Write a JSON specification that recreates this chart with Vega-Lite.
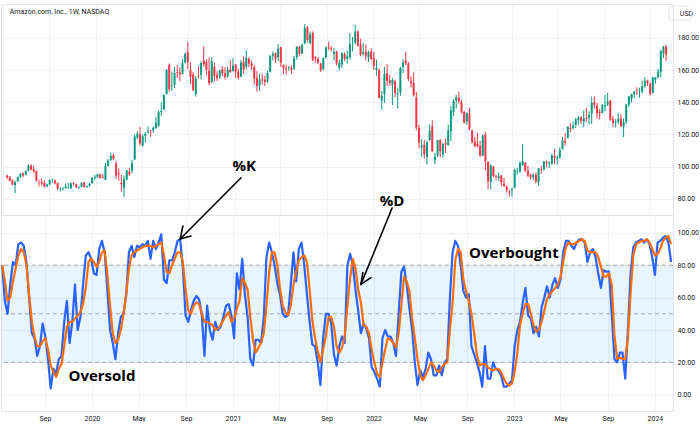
{
"$schema": "https://vega.github.io/schema/vega-lite/v6.json",
"background": "white",
"padding": {"top": 3, "left": 0, "right": 0, "bottom": 0},
"spacing": 0,
"bounds": "flush",
"config": {
  "font": "Roboto",
  "view": {"stroke": "#e0e3eb"},
  "axis": {"labelFont": "Roboto", "labelFontSize": 7, "labelColor": "#131722", "gridColor": "#eef0f5", "domain": false, "ticks": false, "labelOverlap": false}
},
"datasets": {
"w": [
{"t":"2019-05-13","o":94.5,"h":95.0,"l":92.3,"c":93.4,"k":80,"d":80},
{"t":"2019-05-20","o":93.3,"h":94.2,"l":90.8,"c":91.1,"k":58,"d":70},
{"t":"2019-05-27","o":91.5,"h":92.0,"l":88.5,"c":88.8,"k":50,"d":58},
{"t":"2019-06-03","o":88.5,"h":91.3,"l":83.6,"c":90.2,"k":68,"d":60},
{"t":"2019-06-10","o":91.0,"h":94.0,"l":90.3,"c":93.5,"k":82,"d":70},
{"t":"2019-06-17","o":93.6,"h":96.0,"l":93.0,"c":95.6,"k":80,"d":78},
{"t":"2019-06-24","o":95.8,"h":96.5,"l":93.5,"c":94.7,"k":93,"d":86},
{"t":"2019-07-01","o":95.0,"h":97.8,"l":94.5,"c":97.2,"k":94,"d":90},
{"t":"2019-07-08","o":97.5,"h":101.5,"l":97.0,"c":100.6,"k":92,"d":88},
{"t":"2019-07-15","o":100.6,"h":101.5,"l":97.8,"c":98.2,"k":82,"d":80},
{"t":"2019-07-22","o":98.5,"h":100.9,"l":96.0,"c":97.2,"k":60,"d":62},
{"t":"2019-07-29","o":97.3,"h":97.6,"l":90.5,"c":91.6,"k":38,"d":45},
{"t":"2019-08-05","o":90.5,"h":92.0,"l":87.7,"c":90.4,"k":35,"d":36},
{"t":"2019-08-12","o":90.5,"h":92.8,"l":88.3,"c":89.6,"k":24,"d":30},
{"t":"2019-08-19","o":89.8,"h":91.5,"l":87.0,"c":87.5,"k":30,"d":30},
{"t":"2019-08-26","o":88.0,"h":89.5,"l":87.0,"c":88.9,"k":44,"d":33},
{"t":"2019-09-02","o":89.0,"h":92.0,"l":88.5,"c":91.7,"k":36,"d":35},
{"t":"2019-09-09","o":91.8,"h":92.6,"l":90.0,"c":91.9,"k":22,"d":28},
{"t":"2019-09-16","o":91.5,"h":92.0,"l":89.0,"c":89.7,"k":4,"d":18},
{"t":"2019-09-23","o":89.8,"h":90.2,"l":85.4,"c":86.3,"k":16,"d":14},
{"t":"2019-09-30","o":86.4,"h":87.2,"l":84.6,"c":86.5,"k":13,"d":11},
{"t":"2019-10-07","o":86.3,"h":87.4,"l":85.2,"c":86.5,"k":22,"d":16},
{"t":"2019-10-14","o":86.7,"h":89.6,"l":86.3,"c":87.8,"k":24,"d":19},
{"t":"2019-10-21","o":88.0,"h":90.0,"l":86.1,"c":88.1,"k":45,"d":30},
{"t":"2019-10-28","o":86.5,"h":90.3,"l":86.0,"c":89.6,"k":58,"d":42},
{"t":"2019-11-04","o":89.7,"h":90.5,"l":88.4,"c":89.3,"k":32,"d":45},
{"t":"2019-11-11","o":89.0,"h":89.5,"l":86.5,"c":87.3,"k":45,"d":45},
{"t":"2019-11-18","o":87.1,"h":88.0,"l":86.1,"c":87.4,"k":68,"d":47},
{"t":"2019-11-25","o":87.5,"h":90.2,"l":87.3,"c":90.0,"k":40,"d":49},
{"t":"2019-12-02","o":90.2,"h":90.3,"l":86.8,"c":87.6,"k":48,"d":51},
{"t":"2019-12-09","o":87.4,"h":88.4,"l":87.0,"c":88.0,"k":68,"d":56},
{"t":"2019-12-16","o":88.2,"h":90.2,"l":87.5,"c":89.4,"k":86,"d":66},
{"t":"2019-12-23","o":89.7,"h":93.5,"l":89.5,"c":93.0,"k":88,"d":82},
{"t":"2019-12-30","o":93.0,"h":94.9,"l":91.9,"c":93.7,"k":84,"d":84},
{"t":"2020-01-06","o":93.8,"h":95.6,"l":92.9,"c":95.3,"k":75,"d":82},
{"t":"2020-01-13","o":95.3,"h":95.4,"l":92.5,"c":93.2,"k":74,"d":79},
{"t":"2020-01-20","o":93.5,"h":95.3,"l":92.7,"c":93.1,"k":90,"d":82},
{"t":"2020-01-27","o":92.0,"h":102.4,"l":91.5,"c":100.4,"k":95,"d":88},
{"t":"2020-02-03","o":100.5,"h":104.7,"l":100.2,"c":103.8,"k":88,"d":89},
{"t":"2020-02-10","o":104.0,"h":108.8,"l":103.9,"c":106.7,"k":65,"d":75},
{"t":"2020-02-17","o":107.0,"h":108.1,"l":104.0,"c":104.9,"k":40,"d":55},
{"t":"2020-02-24","o":102.0,"h":103.7,"l":92.4,"c":94.4,"k":32,"d":38},
{"t":"2020-03-02","o":96.0,"h":99.0,"l":91.3,"c":95.2,"k":22,"d":32},
{"t":"2020-03-09","o":90.0,"h":95.0,"l":84.5,"c":89.2,"k":38,"d":34},
{"t":"2020-03-16","o":87.0,"h":94.5,"l":81.3,"c":92.3,"k":48,"d":40},
{"t":"2020-03-23","o":92.0,"h":98.0,"l":91.5,"c":97.8,"k":50,"d":50},
{"t":"2020-03-30","o":96.8,"h":99.3,"l":94.2,"c":95.3,"k":62,"d":62},
{"t":"2020-04-06","o":97.5,"h":104.3,"l":96.0,"c":102.1,"k":88,"d":78},
{"t":"2020-04-13","o":104.5,"h":119.9,"l":104.0,"c":118.8,"k":92,"d":86},
{"t":"2020-04-20","o":118.0,"h":122.0,"l":117.0,"c":120.5,"k":85,"d":88},
{"t":"2020-04-27","o":120.0,"h":124.8,"l":113.0,"c":114.3,"k":92,"d":89},
{"t":"2020-05-04","o":113.0,"h":120.0,"l":112.5,"c":118.9,"k":91,"d":90},
{"t":"2020-05-11","o":119.0,"h":121.6,"l":115.0,"c":120.4,"k":93,"d":91},
{"t":"2020-05-18","o":121.2,"h":124.9,"l":120.5,"c":121.8,"k":92,"d":92},
{"t":"2020-05-25","o":122.5,"h":123.0,"l":118.5,"c":122.1,"k":95,"d":92},
{"t":"2020-06-01","o":122.6,"h":125.0,"l":121.0,"c":124.2,"k":84,"d":92},
{"t":"2020-06-08","o":124.0,"h":131.0,"l":123.5,"c":127.3,"k":95,"d":91},
{"t":"2020-06-15","o":125.5,"h":134.8,"l":124.5,"c":133.8,"k":90,"d":92},
{"t":"2020-06-22","o":134.0,"h":139.8,"l":131.6,"c":134.6,"k":94,"d":93},
{"t":"2020-06-29","o":135.6,"h":144.9,"l":135.0,"c":144.5,"k":99,"d":94},
{"t":"2020-07-06","o":145.0,"h":160.6,"l":145.0,"c":160.0,"k":71,"d":86},
{"t":"2020-07-13","o":163.0,"h":164.0,"l":146.5,"c":148.1,"k":69,"d":76},
{"t":"2020-07-20","o":150.0,"h":159.0,"l":147.0,"c":150.4,"k":83,"d":75},
{"t":"2020-07-27","o":151.0,"h":161.9,"l":148.7,"c":158.2,"k":83,"d":80},
{"t":"2020-08-03","o":158.8,"h":163.2,"l":155.0,"c":158.4,"k":88,"d":84},
{"t":"2020-08-10","o":158.5,"h":161.5,"l":153.0,"c":157.4,"k":95,"d":88},
{"t":"2020-08-17","o":157.5,"h":166.7,"l":157.2,"c":164.3,"k":96,"d":88},
{"t":"2020-08-24","o":164.8,"h":171.0,"l":164.0,"c":170.0,"k":78,"d":82},
{"t":"2020-08-31","o":171.0,"h":177.6,"l":160.5,"c":164.7,"k":49,"d":65},
{"t":"2020-09-07","o":160.0,"h":164.9,"l":151.3,"c":155.8,"k":45,"d":52},
{"t":"2020-09-14","o":157.2,"h":158.8,"l":146.8,"c":147.7,"k":52,"d":50},
{"t":"2020-09-21","o":145.0,"h":156.5,"l":143.6,"c":154.8,"k":58,"d":55},
{"t":"2020-09-28","o":156.5,"h":162.3,"l":154.5,"c":156.3,"k":61,"d":57},
{"t":"2020-10-05","o":157.0,"h":165.4,"l":154.0,"c":164.3,"k":59,"d":56},
{"t":"2020-10-12","o":166.0,"h":174.8,"l":162.0,"c":163.6,"k":50,"d":50},
{"t":"2020-10-19","o":165.0,"h":166.7,"l":156.5,"c":160.2,"k":24,"d":45},
{"t":"2020-10-26","o":159.5,"h":167.9,"l":150.5,"c":151.8,"k":55,"d":45},
{"t":"2020-11-02","o":152.5,"h":167.9,"l":152.0,"c":165.6,"k":40,"d":44},
{"t":"2020-11-09","o":162.0,"h":164.7,"l":153.1,"c":156.4,"k":34,"d":43},
{"t":"2020-11-16","o":157.0,"h":159.2,"l":153.2,"c":155.0,"k":45,"d":40},
{"t":"2020-11-23","o":155.9,"h":160.2,"l":154.4,"c":159.8,"k":40,"d":41},
{"t":"2020-11-30","o":160.5,"h":162.5,"l":156.0,"c":158.1,"k":42,"d":43},
{"t":"2020-12-07","o":158.0,"h":161.7,"l":154.0,"c":155.8,"k":48,"d":46},
{"t":"2020-12-14","o":156.0,"h":162.0,"l":155.0,"c":160.1,"k":55,"d":49},
{"t":"2020-12-21","o":160.5,"h":166.3,"l":158.5,"c":158.6,"k":56,"d":51},
{"t":"2020-12-28","o":159.5,"h":167.5,"l":159.0,"c":162.8,"k":49,"d":45},
{"t":"2021-01-04","o":163.5,"h":163.6,"l":155.0,"c":159.1,"k":35,"d":47},
{"t":"2021-01-11","o":159.0,"h":161.0,"l":154.0,"c":155.2,"k":75,"d":53},
{"t":"2021-01-18","o":156.0,"h":166.2,"l":155.5,"c":164.6,"k":65,"d":58},
{"t":"2021-01-25","o":165.0,"h":168.5,"l":157.5,"c":160.3,"k":84,"d":72},
{"t":"2021-02-01","o":162.0,"h":172.0,"l":160.3,"c":167.6,"k":62,"d":69},
{"t":"2021-02-08","o":167.0,"h":168.0,"l":161.8,"c":163.9,"k":48,"d":65},
{"t":"2021-02-15","o":164.0,"h":166.0,"l":160.0,"c":162.5,"k":22,"d":48},
{"t":"2021-02-22","o":162.0,"h":163.0,"l":151.0,"c":154.6,"k":18,"d":34},
{"t":"2021-03-01","o":155.0,"h":159.3,"l":146.6,"c":150.0,"k":34,"d":26},
{"t":"2021-03-08","o":150.5,"h":157.8,"l":147.0,"c":154.4,"k":34,"d":29},
{"t":"2021-03-15","o":154.0,"h":157.8,"l":151.0,"c":153.7,"k":32,"d":32},
{"t":"2021-03-22","o":153.9,"h":156.5,"l":150.0,"c":152.6,"k":48,"d":38},
{"t":"2021-03-29","o":153.0,"h":159.4,"l":152.0,"c":158.1,"k":85,"d":55},
{"t":"2021-04-05","o":159.0,"h":169.4,"l":158.5,"c":168.6,"k":94,"d":76},
{"t":"2021-04-12","o":169.0,"h":171.6,"l":166.0,"c":170.0,"k":88,"d":88},
{"t":"2021-04-19","o":170.5,"h":171.0,"l":164.5,"c":167.0,"k":80,"d":88},
{"t":"2021-04-26","o":168.0,"h":176.2,"l":165.5,"c":173.4,"k":69,"d":80},
{"t":"2021-05-03","o":174.2,"h":174.5,"l":162.0,"c":164.6,"k":62,"d":66},
{"t":"2021-05-10","o":163.0,"h":163.5,"l":157.5,"c":161.1,"k":50,"d":55},
{"t":"2021-05-17","o":161.0,"h":163.5,"l":157.2,"c":160.2,"k":48,"d":51},
{"t":"2021-05-24","o":161.0,"h":162.5,"l":159.5,"c":161.5,"k":49,"d":49},
{"t":"2021-05-31","o":161.5,"h":163.0,"l":157.5,"c":160.3,"k":68,"d":55},
{"t":"2021-06-07","o":161.0,"h":168.7,"l":160.0,"c":167.3,"k":88,"d":68},
{"t":"2021-06-14","o":168.0,"h":175.0,"l":166.5,"c":174.3,"k":70,"d":76},
{"t":"2021-06-21","o":174.5,"h":175.0,"l":168.5,"c":170.1,"k":90,"d":83},
{"t":"2021-06-28","o":170.2,"h":176.5,"l":170.0,"c":175.5,"k":94,"d":85},
{"t":"2021-07-05","o":176.5,"h":188.6,"l":176.0,"c":186.0,"k":80,"d":86},
{"t":"2021-07-12","o":186.5,"h":187.3,"l":176.8,"c":178.6,"k":62,"d":82},
{"t":"2021-07-19","o":176.8,"h":184.0,"l":176.0,"c":181.9,"k":45,"d":65},
{"t":"2021-07-26","o":183.0,"h":184.0,"l":165.5,"c":166.4,"k":31,"d":46},
{"t":"2021-08-02","o":168.0,"h":168.6,"l":164.5,"c":167.2,"k":30,"d":35},
{"t":"2021-08-09","o":167.0,"h":168.0,"l":163.6,"c":164.6,"k":20,"d":27},
{"t":"2021-08-16","o":164.0,"h":164.5,"l":158.8,"c":159.9,"k":6,"d":20},
{"t":"2021-08-23","o":160.5,"h":167.8,"l":160.0,"c":167.5,"k":35,"d":28},
{"t":"2021-08-30","o":168.0,"h":174.8,"l":167.0,"c":173.9,"k":50,"d":36},
{"t":"2021-09-06","o":174.0,"h":177.6,"l":172.5,"c":173.5,"k":50,"d":48},
{"t":"2021-09-13","o":173.6,"h":174.9,"l":171.5,"c":173.1,"k":44,"d":48},
{"t":"2021-09-20","o":170.0,"h":173.8,"l":166.0,"c":171.3,"k":25,"d":42},
{"t":"2021-09-27","o":171.5,"h":172.0,"l":162.8,"c":164.2,"k":18,"d":30},
{"t":"2021-10-04","o":161.5,"h":166.5,"l":160.0,"c":164.4,"k":30,"d":26},
{"t":"2021-10-11","o":163.5,"h":171.0,"l":161.5,"c":170.5,"k":36,"d":29},
{"t":"2021-10-18","o":170.0,"h":171.0,"l":165.5,"c":166.8,"k":32,"d":36},
{"t":"2021-10-25","o":167.0,"h":172.0,"l":164.0,"c":168.6,"k":80,"d":55},
{"t":"2021-11-01","o":168.0,"h":183.0,"l":166.5,"c":175.9,"k":87,"d":72},
{"t":"2021-11-08","o":176.0,"h":180.5,"l":171.5,"c":176.3,"k":80,"d":84},
{"t":"2021-11-15","o":177.0,"h":188.1,"l":176.0,"c":183.8,"k":65,"d":78},
{"t":"2021-11-22","o":184.0,"h":184.5,"l":174.5,"c":175.2,"k":52,"d":65},
{"t":"2021-11-29","o":176.0,"h":179.5,"l":168.6,"c":169.5,"k":38,"d":57},
{"t":"2021-12-06","o":170.0,"h":177.0,"l":169.0,"c":171.0,"k":44,"d":43},
{"t":"2021-12-13","o":171.5,"h":176.0,"l":166.0,"c":168.9,"k":41,"d":42},
{"t":"2021-12-20","o":168.0,"h":172.0,"l":165.0,"c":171.1,"k":35,"d":38},
{"t":"2021-12-27","o":171.5,"h":173.5,"l":166.5,"c":166.7,"k":17,"d":28},
{"t":"2022-01-03","o":167.6,"h":171.4,"l":160.0,"c":162.6,"k":14,"d":20},
{"t":"2022-01-10","o":160.0,"h":166.5,"l":156.5,"c":161.2,"k":10,"d":13},
{"t":"2022-01-17","o":160.0,"h":161.0,"l":142.4,"c":142.6,"k":5,"d":11},
{"t":"2022-01-24","o":141.0,"h":147.0,"l":135.4,"c":144.0,"k":35,"d":20},
{"t":"2022-01-31","o":145.0,"h":162.0,"l":139.6,"c":157.6,"k":40,"d":28},
{"t":"2022-02-07","o":158.0,"h":163.8,"l":150.0,"c":153.3,"k":36,"d":35},
{"t":"2022-02-14","o":153.5,"h":157.0,"l":150.0,"c":151.9,"k":36,"d":34},
{"t":"2022-02-21","o":151.0,"h":155.0,"l":138.3,"c":153.8,"k":32,"d":32},
{"t":"2022-02-28","o":153.0,"h":154.0,"l":143.0,"c":145.6,"k":24,"d":29},
{"t":"2022-03-07","o":145.0,"h":149.0,"l":136.0,"c":145.5,"k":50,"d":38},
{"t":"2022-03-14","o":146.0,"h":162.0,"l":144.0,"c":161.3,"k":76,"d":55},
{"t":"2022-03-21","o":162.0,"h":167.0,"l":158.0,"c":164.7,"k":79,"d":73},
{"t":"2022-03-28","o":166.0,"h":171.4,"l":163.0,"c":164.1,"k":68,"d":70},
{"t":"2022-04-04","o":164.0,"h":165.0,"l":153.0,"c":154.5,"k":53,"d":64},
{"t":"2022-04-11","o":153.0,"h":156.0,"l":149.0,"c":151.7,"k":40,"d":47},
{"t":"2022-04-18","o":152.0,"h":158.5,"l":143.5,"c":144.4,"k":20,"d":35},
{"t":"2022-04-25","o":143.0,"h":146.5,"l":122.5,"c":124.3,"k":6,"d":22},
{"t":"2022-05-02","o":124.0,"h":126.0,"l":111.5,"c":114.8,"k":15,"d":12},
{"t":"2022-05-09","o":112.0,"h":117.0,"l":106.0,"c":113.1,"k":11,"d":9},
{"t":"2022-05-16","o":113.5,"h":116.5,"l":105.0,"c":107.6,"k":16,"d":12},
{"t":"2022-05-23","o":106.0,"h":116.0,"l":101.3,"c":115.1,"k":26,"d":16},
{"t":"2022-05-30","o":116.5,"h":126.2,"l":116.0,"c":122.3,"k":22,"d":20},
{"t":"2022-06-06","o":125.0,"h":128.9,"l":109.0,"c":109.7,"k":12,"d":18},
{"t":"2022-06-13","o":104.0,"h":108.5,"l":101.4,"c":106.2,"k":12,"d":15},
{"t":"2022-06-20","o":107.0,"h":116.7,"l":106.0,"c":116.5,"k":18,"d":14},
{"t":"2022-06-27","o":116.5,"h":117.0,"l":105.8,"c":109.6,"k":12,"d":17},
{"t":"2022-07-04","o":107.5,"h":115.0,"l":105.5,"c":114.0,"k":20,"d":19},
{"t":"2022-07-11","o":114.5,"h":117.5,"l":108.5,"c":113.6,"k":22,"d":20},
{"t":"2022-07-18","o":113.5,"h":126.0,"l":113.0,"c":122.4,"k":60,"d":40},
{"t":"2022-07-25","o":122.0,"h":137.6,"l":116.0,"c":134.9,"k":88,"d":57},
{"t":"2022-08-01","o":134.0,"h":142.0,"l":131.5,"c":140.8,"k":95,"d":83},
{"t":"2022-08-08","o":141.0,"h":144.5,"l":136.0,"c":143.2,"k":92,"d":90},
{"t":"2022-08-15","o":143.0,"h":146.6,"l":139.0,"c":140.6,"k":80,"d":88},
{"t":"2022-08-22","o":140.0,"h":141.5,"l":133.0,"c":133.6,"k":64,"d":71},
{"t":"2022-08-29","o":134.0,"h":134.5,"l":126.7,"c":127.5,"k":60,"d":64},
{"t":"2022-09-05","o":128.0,"h":133.8,"l":126.0,"c":133.3,"k":62,"d":58},
{"t":"2022-09-12","o":133.0,"h":136.5,"l":122.3,"c":123.5,"k":30,"d":50},
{"t":"2022-09-19","o":122.5,"h":123.0,"l":114.5,"c":115.0,"k":25,"d":38},
{"t":"2022-09-26","o":115.5,"h":118.5,"l":112.1,"c":113.0,"k":20,"d":25},
{"t":"2022-10-03","o":114.0,"h":121.0,"l":112.0,"c":112.5,"k":14,"d":18},
{"t":"2022-10-10","o":113.0,"h":116.0,"l":106.0,"c":106.9,"k":5,"d":19},
{"t":"2022-10-17","o":107.0,"h":120.0,"l":106.5,"c":119.3,"k":30,"d":19},
{"t":"2022-10-24","o":120.0,"h":121.5,"l":97.7,"c":103.4,"k":10,"d":17},
{"t":"2022-10-31","o":103.0,"h":103.5,"l":85.9,"c":91.0,"k":10,"d":16},
{"t":"2022-11-07","o":90.5,"h":101.5,"l":86.0,"c":100.8,"k":20,"d":15},
{"t":"2022-11-14","o":100.0,"h":100.5,"l":93.5,"c":94.1,"k":16,"d":16},
{"t":"2022-11-21","o":94.0,"h":95.0,"l":91.5,"c":93.4,"k":15,"d":16},
{"t":"2022-11-28","o":93.0,"h":96.5,"l":91.0,"c":94.1,"k":12,"d":14},
{"t":"2022-12-05","o":94.5,"h":95.0,"l":88.0,"c":90.4,"k":5,"d":10},
{"t":"2022-12-12","o":89.5,"h":93.0,"l":87.5,"c":87.9,"k":5,"d":7},
{"t":"2022-12-19","o":87.5,"h":88.5,"l":84.0,"c":85.3,"k":7,"d":5.6},
{"t":"2022-12-26","o":84.5,"h":85.5,"l":81.4,"c":84.0,"k":9,"d":7},
{"t":"2023-01-02","o":85.5,"h":87.0,"l":81.5,"c":86.1,"k":30,"d":14},
{"t":"2023-01-09","o":87.0,"h":98.8,"l":86.5,"c":98.1,"k":40,"d":26},
{"t":"2023-01-16","o":97.0,"h":99.3,"l":95.0,"c":97.3,"k":45,"d":43},
{"t":"2023-01-23","o":97.0,"h":103.5,"l":96.0,"c":102.2,"k":57,"d":50},
{"t":"2023-01-30","o":101.0,"h":114.0,"l":100.5,"c":103.4,"k":66,"d":56},
{"t":"2023-02-06","o":102.5,"h":103.0,"l":96.5,"c":97.6,"k":49,"d":56},
{"t":"2023-02-13","o":97.5,"h":100.5,"l":93.5,"c":94.4,"k":47,"d":50},
{"t":"2023-02-20","o":95.0,"h":95.8,"l":92.0,"c":93.5,"k":38,"d":43},
{"t":"2023-02-27","o":93.5,"h":96.0,"l":91.5,"c":94.9,"k":42,"d":39},
{"t":"2023-03-06","o":95.0,"h":96.5,"l":89.5,"c":90.7,"k":36,"d":40},
{"t":"2023-03-13","o":90.5,"h":99.0,"l":88.1,"c":99.0,"k":54,"d":45},
{"t":"2023-03-20","o":98.5,"h":100.5,"l":95.5,"c":98.1,"k":60,"d":52},
{"t":"2023-03-27","o":98.5,"h":103.5,"l":97.5,"c":103.3,"k":67,"d":59},
{"t":"2023-04-03","o":102.8,"h":103.9,"l":99.5,"c":102.1,"k":60,"d":62},
{"t":"2023-04-10","o":102.0,"h":103.5,"l":99.0,"c":102.5,"k":68,"d":64},
{"t":"2023-04-17","o":102.0,"h":108.0,"l":101.0,"c":107.0,"k":72,"d":66},
{"t":"2023-04-24","o":106.5,"h":110.9,"l":101.5,"c":105.5,"k":66,"d":68},
{"t":"2023-05-01","o":105.0,"h":107.0,"l":101.2,"c":105.7,"k":71,"d":73},
{"t":"2023-05-08","o":105.5,"h":112.0,"l":105.0,"c":110.3,"k":88,"d":82},
{"t":"2023-05-15","o":111.0,"h":118.5,"l":110.5,"c":116.3,"k":95,"d":91},
{"t":"2023-05-22","o":116.0,"h":121.0,"l":113.0,"c":115.0,"k":95,"d":94},
{"t":"2023-05-29","o":118.0,"h":125.0,"l":117.5,"c":124.9,"k":92,"d":93},
{"t":"2023-06-05","o":124.0,"h":127.0,"l":121.5,"c":123.4,"k":90,"d":93},
{"t":"2023-06-12","o":124.0,"h":128.0,"l":123.0,"c":125.5,"k":94,"d":94},
{"t":"2023-06-19","o":126.0,"h":130.3,"l":124.0,"c":129.3,"k":96,"d":95},
{"t":"2023-06-26","o":129.0,"h":131.5,"l":126.0,"c":130.4,"k":96,"d":96},
{"t":"2023-07-03","o":130.5,"h":131.5,"l":126.5,"c":128.4,"k":94,"d":95},
{"t":"2023-07-10","o":128.0,"h":135.0,"l":124.5,"c":130.0,"k":82,"d":89},
{"t":"2023-07-17","o":130.3,"h":136.5,"l":128.0,"c":129.8,"k":88,"d":88},
{"t":"2023-07-24","o":130.5,"h":134.5,"l":126.4,"c":132.2,"k":90,"d":88},
{"t":"2023-07-31","o":133.0,"h":143.6,"l":126.5,"c":139.6,"k":85,"d":88},
{"t":"2023-08-07","o":140.0,"h":143.6,"l":136.0,"c":138.4,"k":75,"d":85},
{"t":"2023-08-14","o":138.0,"h":139.5,"l":129.8,"c":133.2,"k":66,"d":79},
{"t":"2023-08-21","o":134.0,"h":135.7,"l":129.3,"c":133.3,"k":77,"d":73},
{"t":"2023-08-28","o":133.5,"h":139.0,"l":133.0,"c":138.1,"k":76,"d":73},
{"t":"2023-09-04","o":137.5,"h":144.5,"l":134.5,"c":138.2,"k":76,"d":75},
{"t":"2023-09-11","o":138.5,"h":145.9,"l":137.5,"c":140.4,"k":50,"d":68},
{"t":"2023-09-18","o":141.0,"h":141.5,"l":128.5,"c":129.1,"k":22,"d":37},
{"t":"2023-09-25","o":129.5,"h":131.5,"l":124.5,"c":127.1,"k":20,"d":22},
{"t":"2023-10-02","o":127.3,"h":129.5,"l":124.3,"c":128.0,"k":26,"d":23},
{"t":"2023-10-09","o":128.0,"h":133.5,"l":126.5,"c":129.8,"k":26,"d":22},
{"t":"2023-10-16","o":130.0,"h":132.5,"l":124.5,"c":125.2,"k":10,"d":22},
{"t":"2023-10-23","o":125.0,"h":130.0,"l":118.4,"c":127.7,"k":40,"d":35},
{"t":"2023-10-30","o":128.0,"h":138.8,"l":126.5,"c":138.6,"k":75,"d":63},
{"t":"2023-11-06","o":138.5,"h":143.8,"l":137.0,"c":143.6,"k":91,"d":86},
{"t":"2023-11-13","o":142.5,"h":145.2,"l":140.0,"c":145.2,"k":94,"d":93},
{"t":"2023-11-20","o":145.0,"h":147.0,"l":142.5,"c":146.7,"k":95,"d":94},
{"t":"2023-11-27","o":147.3,"h":149.3,"l":144.5,"c":147.0,"k":96,"d":95},
{"t":"2023-12-04","o":147.0,"h":149.0,"l":142.8,"c":147.4,"k":94,"d":95},
{"t":"2023-12-11","o":146.5,"h":153.4,"l":145.5,"c":150.0,"k":96,"d":96},
{"t":"2023-12-18","o":150.0,"h":155.6,"l":149.0,"c":153.4,"k":93,"d":94},
{"t":"2023-12-25","o":153.5,"h":154.0,"l":150.0,"c":151.9,"k":85,"d":90},
{"t":"2024-01-01","o":151.5,"h":152.4,"l":144.1,"c":145.2,"k":74,"d":86},
{"t":"2024-01-08","o":146.0,"h":156.0,"l":145.5,"c":155.2,"k":94,"d":87},
{"t":"2024-01-15","o":154.0,"h":155.5,"l":151.5,"c":155.5,"k":95,"d":90},
{"t":"2024-01-22","o":155.5,"h":160.7,"l":155.0,"c":159.1,"k":97,"d":95},
{"t":"2024-01-29","o":159.0,"h":172.5,"l":155.5,"c":171.8,"k":98,"d":97},
{"t":"2024-02-05","o":170.2,"h":175.0,"l":167.5,"c":174.5,"k":94,"d":98},
{"t":"2024-02-12","o":174.5,"h":175.5,"l":165.7,"c":169.5,"k":82,"d":93}
],
"arrows": [
{"t1":"2021-01-22","v1":134.0,"t2":"2020-08-17","v2":96.2},
{"t1":"2020-08-17","v1":96.2,"t2":"2020-09-14","v2":98.0},
{"t1":"2020-08-17","v1":96.2,"t2":"2020-08-24","v2":104.2},
{"t1":"2022-02-18","v1":115.3,"t2":"2021-11-29","v2":68.2},
{"t1":"2021-11-29","v1":68.2,"t2":"2021-12-25","v2":72.3},
{"t1":"2021-11-29","v1":68.2,"t2":"2021-12-04","v2":75.4}
],
"notes": [
{"t":"2021-01-30","v":138.2,"s":"%K"},
{"t":"2022-02-18","v":116.6,"s":"%D"},
{"t":"2022-12-31","v":84.5,"s":"Overbought"},
{"t":"2020-01-27","v":8.5,"s":"Oversold"}
]
},
"vconcat": [
{
  "width": 672,
  "height": 211,
  "layer": [
    {
      "data": {"name": "w"},
      "mark": {"type": "rule", "strokeWidth": 1},
      "encoding": {
        "x": {"field": "t", "type": "temporal",
              "scale": {"domain": [{"year": 2019, "month": 5, "date": 10}, {"year": 2024, "month": 2, "date": 17}], "nice": false},
              "axis": {"tickCount": {"interval": "month", "step": 4}, "labels": false, "grid": true, "title": null}},
        "y": {"field": "l", "type": "quantitative",
              "scale": {"domain": [70, 201], "nice": false, "zero": false},
              "axis": {"orient": "right", "values": [80, 100, 120, 140, 160, 180], "format": ".2f", "grid": true, "labelPadding": 4,
                       "title": "USD", "titleAngle": 0, "titleAlign": "center", "titleBaseline": "middle", "titleX": 13, "titleY": 9,
                       "titleFontSize": 7, "titleFontWeight": "normal", "titleColor": "#131722", "titleFont": "Roboto"}},
        "y2": {"field": "h"},
        "color": {"condition": {"test": "datum.c >= datum.o", "value": "#089981"}, "value": "#f23645"}
      }
    },
    {
      "data": {"name": "w"},
      "mark": {"type": "bar", "size": 2},
      "encoding": {
        "x": {"field": "t", "type": "temporal"},
        "y": {"field": "o", "type": "quantitative"},
        "y2": {"field": "c"},
        "color": {"condition": {"test": "datum.c >= datum.o", "value": "#089981"}, "value": "#f23645"}
      }
    },
    {
      "data": {"values": [{"s": "Amazon.com, Inc., 1W, NASDAQ"}]},
      "mark": {"type": "text", "align": "left", "baseline": "alphabetic", "fontSize": 7, "color": "#131722", "font": "Roboto"},
      "encoding": {
        "x": {"datum": {"year": 2019, "month": 5, "date": 20}, "type": "temporal"},
        "y": {"datum": 194.5},
        "text": {"field": "s"}
      }
    },
    {
      "data": {"values": [{"s": "USD"}]},
      "mark": {"type": "rect", "fillOpacity": 0, "stroke": "#e0e3eb", "strokeWidth": 1, "cornerRadius": 2},
      "encoding": {
        "x": {"datum": {"year": 2024, "month": 2, "date": 19}, "type": "temporal"},
        "x2": {"datum": {"year": 2024, "month": 4, "date": 18}},
        "y": {"datum": 199.8},
        "y2": {"datum": 191.1}
      }
    }
  ]
},
{
  "width": 672,
  "height": 196,
  "encoding": {
    "y": {"type": "quantitative",
          "scale": {"domain": [-10, 111], "nice": false, "zero": false},
          "axis": {"orient": "right", "values": [0, 20, 40, 60, 80, 100], "format": ".2f", "grid": true, "labelPadding": 4, "title": null, "labelOverlap": false}}
  },
  "layer": [
    {
      "data": {"values": [{"lo": 20, "hi": 80}]},
      "mark": {"type": "rect", "color": "#2196f3", "opacity": 0.1},
      "encoding": {
        "x": {"datum": {"year": 2019, "month": 5, "date": 10}, "type": "temporal",
              "scale": {"domain": [{"year": 2019, "month": 5, "date": 10}, {"year": 2024, "month": 2, "date": 17}], "nice": false},
              "axis": {"tickCount": {"interval": "month", "step": 4},
                       "labelExpr": "month(datum.value) === 0 ? timeFormat(datum.value, '%Y') : timeFormat(datum.value, '%b')",
                       "grid": true, "title": null, "labelPadding": 3}},
        "x2": {"datum": {"year": 2024, "month": 2, "date": 17}},
        "y": {"field": "lo", "type": "quantitative",
              "scale": {"domain": [-10, 111], "nice": false, "zero": false},
              "axis": {"orient": "right", "values": [0, 20, 40, 60, 80, 100], "format": ".2f", "grid": true, "labelPadding": 4, "title": null, "labelOverlap": false}},
        "y2": {"field": "hi"}
      }
    },
    {
      "data": {"values": [{"v": 80}, {"v": 50}, {"v": 20}]},
      "mark": {"type": "rule", "color": "#a6a9b2", "strokeDash": [4, 3], "strokeWidth": 1},
      "encoding": {"y": {"field": "v", "type": "quantitative", "axis": {"orient": "right", "values": [0, 20, 40, 60, 80, 100], "format": ".2f", "grid": true, "labelPadding": 4, "title": null, "labelOverlap": false}}}
    },
    {
      "data": {"name": "w"},
      "mark": {"type": "line", "color": "#2962ff", "strokeWidth": 2.2, "strokeJoin": "round"},
      "encoding": {
        "x": {"field": "t", "type": "temporal"},
        "y": {"field": "k", "type": "quantitative", "axis": {"orient": "right", "values": [0, 20, 40, 60, 80, 100], "format": ".2f", "grid": true, "labelPadding": 4, "title": null, "labelOverlap": false}}
      }
    },
    {
      "data": {"name": "w"},
      "mark": {"type": "line", "color": "#ff6d00", "strokeWidth": 2.2, "strokeJoin": "round"},
      "encoding": {
        "x": {"field": "t", "type": "temporal"},
        "y": {"field": "d", "type": "quantitative", "axis": {"orient": "right", "values": [0, 20, 40, 60, 80, 100], "format": ".2f", "grid": true, "labelPadding": 4, "title": null, "labelOverlap": false}}
      }
    },
    {
      "data": {"name": "arrows"},
      "mark": {"type": "rule", "color": "#000000", "strokeWidth": 1.6, "strokeCap": "round"},
      "encoding": {
        "x": {"field": "t1", "type": "temporal"},
        "x2": {"field": "t2"},
        "y": {"field": "v1", "type": "quantitative", "axis": {"orient": "right", "values": [0, 20, 40, 60, 80, 100], "format": ".2f", "grid": true, "labelPadding": 4, "title": null, "labelOverlap": false}},
        "y2": {"field": "v2"}
      }
    },
    {
      "data": {"name": "notes"},
      "mark": {"type": "text", "font": "Open Sans", "fontWeight": "bold", "fontSize": 15, "color": "#000000", "align": "center", "baseline": "alphabetic"},
      "encoding": {
        "x": {"field": "t", "type": "temporal"},
        "y": {"field": "v", "type": "quantitative", "axis": {"orient": "right", "values": [0, 20, 40, 60, 80, 100], "format": ".2f", "grid": true, "labelPadding": 4, "title": null, "labelOverlap": false}},
        "text": {"field": "s"}
      }
    }
  ]
}
]
}
